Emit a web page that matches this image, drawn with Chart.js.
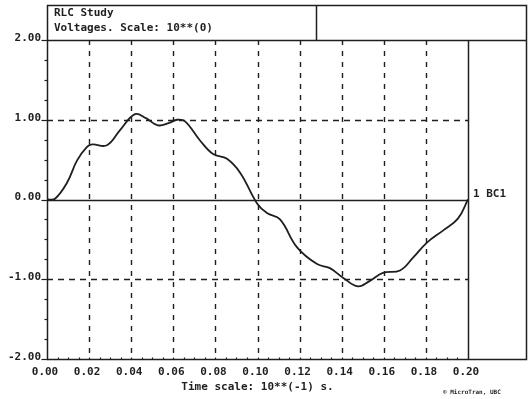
<!DOCTYPE html>
<html>
<head>
<meta charset="utf-8">
<script src="https://cdn.jsdelivr.net/npm/chart.js@4.4.1/dist/chart.umd.min.js"></script>
<style>
  html, body { margin: 0; padding: 0; background: #ffffff; }
  #wrap { width: 528px; height: 399px; position: relative; }
</style>
</head>
<body>
<div id="wrap"><canvas id="c" width="528" height="399"></canvas></div>
<script>
// RLC study: capacitor voltage BC1 over time (time in units of 10**(-1) s)
const times = [0, 0.0038, 0.0095, 0.0143, 0.019, 0.0215, 0.0285, 0.0347, 0.0418, 0.047,
  0.0527, 0.058, 0.0618, 0.0656, 0.0727, 0.0789, 0.0855, 0.0919, 0.0998, 0.1045,
  0.1107, 0.1188, 0.1283, 0.1344, 0.1406, 0.1477, 0.1534, 0.1596, 0.1677, 0.1739,
  0.1805, 0.1881, 0.1952, 0.2];
const volts = [0, 0.01, 0.21, 0.49, 0.66, 0.69, 0.68, 0.87, 1.07, 1.02,
  0.93, 0.96, 1.00, 0.98, 0.74, 0.57, 0.51, 0.33, -0.05, -0.17,
  -0.25, -0.60, -0.81, -0.86, -0.98, -1.09, -1.02, -0.92, -0.89, -0.73,
  -0.54, -0.39, -0.24, 0];

const xTicks = [0, 0.02, 0.04, 0.06, 0.08, 0.10, 0.12, 0.14, 0.16, 0.18, 0.20];
const yTicks = [-2, -1, 0, 1, 2];

const titleLines = ['RLC Study', 'Voltages. Scale: 10**(0)'];
const xAxisTitle = 'Time scale: 10**(-1) s.';
const curveLabel = '1 BC1';
const credit = '\u00A9 MicroTran, UBC';

const INK = '#1f1f1f';
const MONO = '"DejaVu Sans Mono", "Liberation Mono", monospace';

const framePlugin = {
  id: 'frame',
  beforeDatasetsDraw(chart) {
    const { ctx, chartArea: a, scales: { x, y } } = chart;
    ctx.save();
    ctx.strokeStyle = INK;
    ctx.lineWidth = 1.4;

    // dashed vertical grid
    ctx.setLineDash([5, 6]);
    xTicks.slice(1, -1).forEach(t => {
      const px = Math.round(x.getPixelForValue(t)) + 0.5;
      ctx.beginPath(); ctx.moveTo(px, a.top); ctx.lineTo(px, a.bottom); ctx.stroke();
    });
    // dashed horizontal grid at +-1
    ctx.setLineDash([6, 5]);
    [1, -1].forEach(v => {
      const py = Math.round(y.getPixelForValue(v)) + 0.5;
      ctx.beginPath(); ctx.moveTo(a.left, py); ctx.lineTo(a.right, py); ctx.stroke();
    });
    ctx.setLineDash([]);
    // zero line
    const y0 = Math.round(y.getPixelForValue(0)) + 0.5;
    ctx.beginPath(); ctx.moveTo(a.left, y0); ctx.lineTo(a.right, y0); ctx.stroke();

    // frame of plot and side / title panels
    const L = a.left + 0.5, R = a.right + 0.5, T = a.top + 0.5, B = a.bottom + 0.5;
    const outerR = 526.5, outerT = 5.5, split = 316.5;
    ctx.lineWidth = 1.5;
    ctx.beginPath();
    ctx.moveTo(L, outerT); ctx.lineTo(outerR, outerT); ctx.lineTo(outerR, B); ctx.lineTo(L, B); ctx.closePath();
    ctx.moveTo(L, T); ctx.lineTo(outerR, T);
    ctx.moveTo(R, T); ctx.lineTo(R, B);
    ctx.moveTo(split, outerT); ctx.lineTo(split, T);
    ctx.stroke();

    // major and minor ticks on the voltage axis
    ctx.lineWidth = 1.2;
    for (let v = -2; v <= 2.001; v += 0.25) {
      const py = Math.round(y.getPixelForValue(v)) + 0.5;
      const major = Math.abs(v - Math.round(v)) < 1e-6;
      ctx.beginPath(); ctx.moveTo(L - (major ? 6 : 3), py); ctx.lineTo(L, py); ctx.stroke();
    }
    // minor ticks on the time axis
    for (let t = 0.005; t < 0.2; t += 0.005) {
      const px = Math.round(x.getPixelForValue(t)) + 0.5;
      ctx.beginPath(); ctx.moveTo(px, B - 2); ctx.lineTo(px, B); ctx.stroke();
    }
    ctx.restore();
  },
  afterDraw(chart) {
    const { ctx, chartArea: a, scales: { y } } = chart;
    ctx.save();
    ctx.fillStyle = INK;
    ctx.textBaseline = 'middle';
    ctx.textAlign = 'left';
    ctx.font = 'bold 11px ' + MONO;
    ctx.fillText(titleLines[0], 54, 13);
    ctx.fillText(titleLines[1], 54, 28);
    ctx.fillText(curveLabel, a.right + 5, y.getPixelForValue(0) - 5);
    ctx.font = 'bold 6px ' + MONO;
    ctx.fillText(credit, 443, 392);
    ctx.restore();
  }
};

new Chart(document.getElementById('c'), {
  type: 'line',
  data: {
    datasets: [{
      label: curveLabel,
      data: times.map((t, i) => ({ x: t, y: volts[i] })),
      borderColor: INK,
      borderWidth: 1.8,
      pointRadius: 0,
      tension: 0.4,
      fill: false
    }]
  },
  options: {
    responsive: false,
    animation: false,
    devicePixelRatio: 1,
    layout: { padding: { top: 40, right: 60, left: 0, bottom: 0 } },
    plugins: { legend: { display: false }, tooltip: { enabled: false } },
    scales: {
      x: {
        type: 'linear', min: 0, max: 0.2,
        afterBuildTicks(s) { s.ticks = xTicks.map(v => ({ value: v })); },
        afterFit(s) { s.height = 40; },
        grid: { display: false, drawTicks: false },
        border: { display: false },
        ticks: {
          color: INK, padding: 7, labelOffset: -2, maxRotation: 0, autoSkip: false,
          font: { family: MONO, size: 11, weight: 'bold' },
          callback: v => Number(v).toFixed(2)
        },
        title: {
          display: true, text: xAxisTitle, color: INK,
          font: { family: MONO, size: 11, weight: 'bold' },
          padding: { top: 0, bottom: 5 }
        }
      },
      y: {
        min: -2, max: 2,
        afterBuildTicks(s) { s.ticks = yTicks.map(v => ({ value: v })); },
        afterFit(s) { s.width = 47; },
        grid: { display: false, drawTicks: false },
        border: { display: false },
        ticks: {
          color: INK, padding: 6, labelOffset: -2,
          font: { family: MONO, size: 11, weight: 'bold' },
          callback: v => Number(v).toFixed(2)
        }
      }
    }
  },
  plugins: [framePlugin]
});
</script>
</body>
</html>
